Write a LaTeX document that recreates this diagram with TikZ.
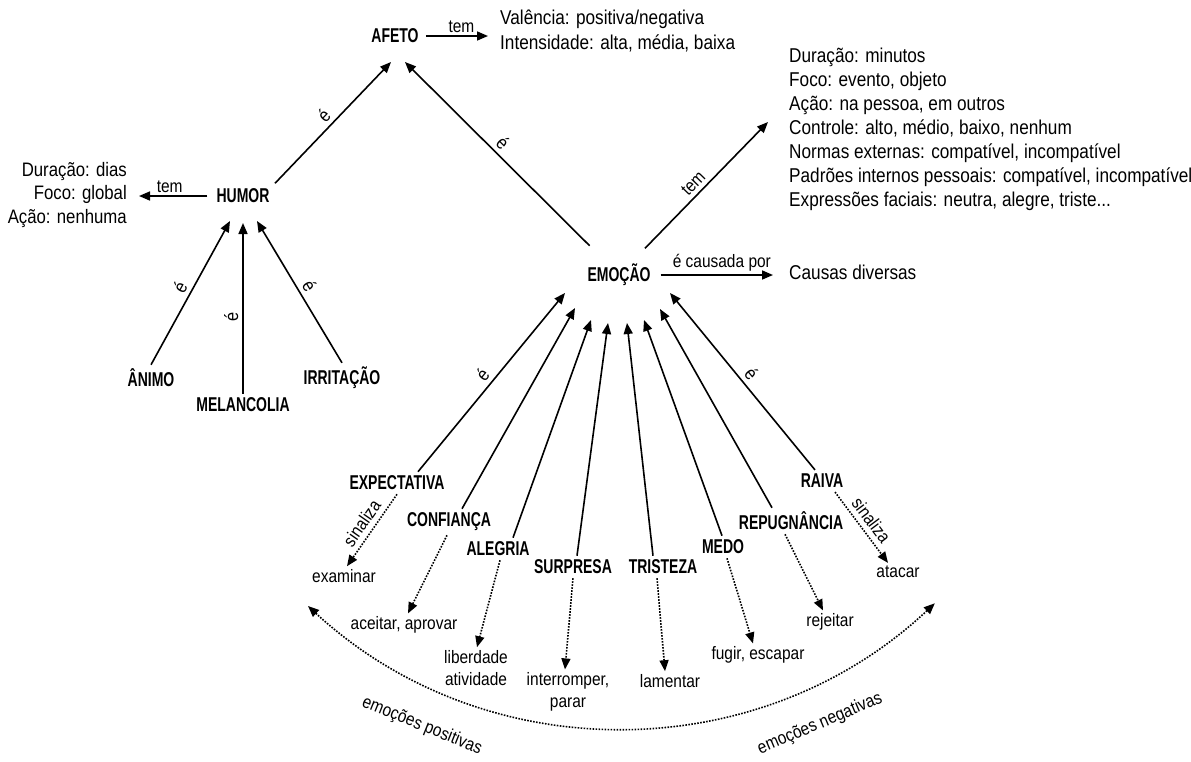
\documentclass[tikz,border=0pt]{standalone}
\usepackage{fontspec}
\setmainfont{Liberation Sans}[FakeStretch=0.86, BoldFeatures={FakeStretch=0.7}]
\usetikzlibrary{arrows.meta}
\begin{document}
\begin{tikzpicture}[x=1pt,y=-1pt,
  every node/.style={text=black},
  concept/.style={font=\fontsize{20}{22}\selectfont\bfseries, inner sep=4pt},
  result/.style={font=\fontsize{18}{22}\selectfont, inner sep=3pt, align=center},
  info/.style={inner sep=0pt},
  lbl/.style={font=\fontsize{18}{20}\selectfont, inner sep=3pt},
  islbl/.style={font=\fontsize{19}{20}\selectfont, inner sep=4pt, sloped, above},
  rel/.style={line width=1.6pt, -{Triangle[length=11pt,width=9pt]}},
  sig/.style={line width=1.6pt, dash pattern=on 1.6pt off 1.4pt, -{Triangle[length=11pt,width=9pt]}},
]
\useasboundingbox (0,0) rectangle (1191,761);

% core concepts
\node[concept] (afeto)  at (395,36)  {AFETO};
\node[concept] (humor)  at (243,196) {HUMOR};
\node[concept] (emocao) at (619,275) {EMOÇÃO};

% attribute lists
\node[info, anchor=north west, align=left, font=\fontsize{20}{25}\selectfont] (afetoinfo) at (500,10)
  {Valência: positiva/negativa\\Intensidade: alta, média, baixa};
\node[info, anchor=north east, align=right, font=\fontsize{19.5}{23.5}\selectfont] (humorinfo) at (127,162)
  {Duração: dias\\Foco: global\\Ação: nenhuma};
\node[info, anchor=north west, align=left, font=\fontsize{20}{24}\selectfont] (emocaoinfo) at (789,48)
  {Duração: minutos\\Foco: evento, objeto\\Ação: na pessoa, em outros\\Controle: alto, médio, baixo, nenhum\\Normas externas: compatível, incompatível\\Padrões internos pessoais: compatível, incompatível\\Expressões faciais: neutra, alegre, triste...};
\node[info, anchor=west, font=\fontsize{20}{24}\selectfont] (causas) at (789,272) {Causas diversas};

% kinds of mood
\node[concept] (animo)      at (151,378) {ÂNIMO};
\node[concept] (melancolia) at (243,405) {MELANCOLIA};
\node[concept] (irritacao)  at (342,378) {IRRITAÇÃO};

% basic emotions
\node[concept] (expectativa) at (397,483) {EXPECTATIVA};
\node[concept] (confianca)   at (449,522) {CONFIANÇA};
\node[concept] (alegria)     at (498,549) {ALEGRIA};
\node[concept] (surpresa)    at (573,567) {SURPRESA};
\node[concept] (tristeza)    at (663,567) {TRISTEZA};
\node[concept] (medo)        at (723,547) {MEDO};
\node[concept] (repugnancia) at (791,521) {REPUGNÂNCIA};
\node[concept] (raiva)       at (822,481) {RAIVA};

% what each emotion signals
\node[result] (examinar)    at (344,576) {examinar};
\node[result] (aceitar)     at (404,625) {aceitar, aprovar};
\node[result] (liberdade)   at (476,668) {liberdade\\atividade};
\node[result] (interromper) at (568,692) {interromper,\\parar};
\node[result] (lamentar)    at (670,681) {lamentar};
\node[result] (fugir)       at (758,655) {fugir, escapar};
\node[result] (rejeitar)    at (830,622) {rejeitar};
\node[result] (atacar)      at (898,572) {atacar};

% arrow end points around the concepts
\coordinate (afeto-inL) at (391,62);
\coordinate (afeto-inR) at (405,62);
\coordinate (humor-in1) at (230,221);
\coordinate (humor-in2) at (243,223);
\coordinate (humor-in3) at (257,221);
\coordinate (emo-in1) at (565,293);
\coordinate (emo-in2) at (575,308);
\coordinate (emo-in3) at (591,320);
\coordinate (emo-in4) at (608,323);
\coordinate (emo-in5) at (627,323);
\coordinate (emo-in6) at (644,320);
\coordinate (emo-in7) at (660,309);
\coordinate (emo-in8) at (670,293);
\coordinate (emo-tem) at (768,122);
\coordinate (posend)  at (308,606);

% "tem" and "é causada por"
\draw[rel, shorten <=3pt, shorten >=12pt] (afeto.east) -- (afeto.east -| afetoinfo.west)
  node[lbl, midway, above] {tem};
\draw[rel, shorten <=5pt, shorten >=12pt] (humor.west) -- (humor.west -| humorinfo.east)
  node[lbl, midway, above] {tem};
\draw[rel, shorten <=6pt, shorten >=16pt] (emocao.east) -- (emocao.east -| causas.west)
  node[lbl, midway, above] {é causada por};
\draw[rel, shorten <=16pt] (emocao) -- (emo-tem)
  node[islbl, midway, font=\fontsize{18}{20}\selectfont] {tem};

% "é" links
\draw[rel, shorten <=2pt] (humor.north east) -- (afeto-inL) node[islbl, midway] {é};
\draw[rel, shorten <=20pt] (emocao) -- (afeto-inR) node[islbl, pos=0.55] {é};
\draw[rel] (animo.north) -- (humor-in1) node[islbl, midway] {é};
\draw[rel] (melancolia.north) -- (humor-in2) node[islbl, pos=0.45] {é};
\draw[rel] (irritacao.north) -- (humor-in3) node[islbl, midway] {é};

\draw[rel] ([xshift=21pt]expectativa.north) -- (emo-in1) node[islbl, midway] {é};
\draw[rel] ([xshift=13pt]confianca.north) -- (emo-in2);
\draw[rel] ([xshift=15pt]alegria.north) -- (emo-in3);
\draw[rel] ([xshift=4pt]surpresa.north) -- (emo-in4);
\draw[rel] ([xshift=-10pt]tristeza.north) -- (emo-in5);
\draw[rel] ([xshift=-1pt]medo.north) -- (emo-in6);
\draw[rel] ([xshift=-19pt]repugnancia.north) -- (emo-in7);
\draw[rel] ([xshift=-7pt]raiva.north) -- (emo-in8) node[islbl, midway] {é};

% signals
\draw[sig] (expectativa.south) -- ([xshift=3pt]examinar.north)
  node[islbl, midway, inner sep=5pt, font=\fontsize{18}{20}\selectfont] {sinaliza};
\draw[sig] ([xshift=-2pt]confianca.south) -- ([xshift=4pt]aceitar.north);
\draw[sig] ([xshift=2pt]alegria.south) -- ([xshift=1pt]liberdade.north);
\draw[sig] (surpresa.south) -- ([xshift=-3pt]interromper.north);
\draw[sig] ([xshift=-6pt]tristeza.south) -- ([xshift=-5pt]lamentar.north);
\draw[sig] ([xshift=4pt]medo.south) -- ([xshift=-5pt]fugir.north);
\draw[sig] ([xshift=-6pt]repugnancia.south) -- ([xshift=-7pt]rejeitar.north);
\draw[sig] ([xshift=13pt]raiva.south) -- ([xshift=-10pt]atacar.north)
  node[islbl, midway, inner sep=5pt, font=\fontsize{18}{20}\selectfont] {sinaliza};

% positive / negative range
\draw[sig, {Triangle[length=11pt,width=9pt]}-{Triangle[length=11pt,width=9pt]}]
  (posend) arc[start angle=132.7, end angle=46.8, radius=460];
\node[lbl, rotate=-22] (positivas) at (422,726) {emoções positivas};
\node[lbl, rotate=23] (negativas) at (820,724) {emoções negativas};
\end{tikzpicture}
\end{document}
